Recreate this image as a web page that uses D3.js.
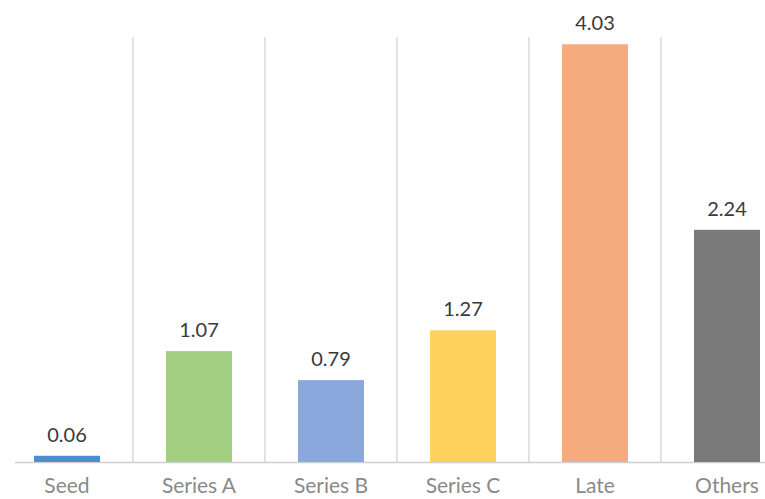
<!DOCTYPE html>
<html>
<head>
<meta charset="utf-8">
<script src="https://d3js.org/d3.v7.min.js"></script>
<style>
body { margin: 0; background: #fff; }
</style>
</head>
<body>
<div id="chart"></div>
<script>
// chart data
const categories = ["Seed", "Series A", "Series B", "Series C", "Late", "Others"];
const values = [0.06, 1.07, 0.79, 1.27, 4.03, 2.24];
const barColors = ["#4a8fd2", "#a3cf82", "#8aa8dc", "#fed35d", "#f5ab7d", "#7a7a7a"];

const W = 765, H = 499;
const svg = d3.select("#chart").append("svg")
    .attr("width", W)
    .attr("height", H);

// band spans past the right edge, like the original crop
const xScale = d3.scaleBand()
    .domain(categories)
    .range([1, 793])
    .paddingInner(0)
    .paddingOuter(0);

const yScale = d3.scaleLinear()
    .domain([0, 4.1])
    .range([462, 37]);

// vertical separators between categories
svg.append("g")
    .selectAll("line")
    .data(categories.slice(1))
    .join("line")
    .attr("x1", d => xScale(d))
    .attr("x2", d => xScale(d))
    .attr("y1", yScale(4.1))
    .attr("y2", yScale(0))
    .attr("stroke", "#d9d9d9")
    .attr("stroke-width", 1.5);

// baseline
svg.append("line")
    .attr("x1", 15)
    .attr("x2", W)
    .attr("y1", yScale(0) + 0.5)
    .attr("y2", yScale(0) + 0.5)
    .attr("stroke", "#d0d0d0")
    .attr("stroke-width", 1.5);

const barW = xScale.bandwidth() * 0.5;

svg.append("g")
    .selectAll("rect")
    .data(values)
    .join("rect")
    .attr("x", (d, i) => xScale(categories[i]) + (xScale.bandwidth() - barW) / 2)
    .attr("y", d => yScale(d))
    .attr("width", barW)
    .attr("height", d => yScale(0) - yScale(d))
    .attr("fill", (d, i) => barColors[i]);

// value labels
svg.append("g")
    .selectAll("text")
    .data(values)
    .join("text")
    .attr("x", (d, i) => xScale(categories[i]) + xScale.bandwidth() / 2)
    .attr("y", d => yScale(d) - 14)
    .attr("text-anchor", "middle")
    .style("font-family", "Lato, 'Open Sans', sans-serif")
    .style("font-size", "20px")
    .style("fill", "#3a3a3a")
    .text(d => d.toFixed(2));

// category labels
svg.append("g")
    .selectAll("text")
    .data(categories)
    .join("text")
    .attr("x", d => xScale(d) + xScale.bandwidth() / 2)
    .attr("y", 493)
    .attr("text-anchor", "middle")
    .style("font-family", "Lato, 'Open Sans', sans-serif")
    .style("font-size", "21px")
    .style("fill", "#8a8a8a")
    .text(d => d);
</script>
</body>
</html>
